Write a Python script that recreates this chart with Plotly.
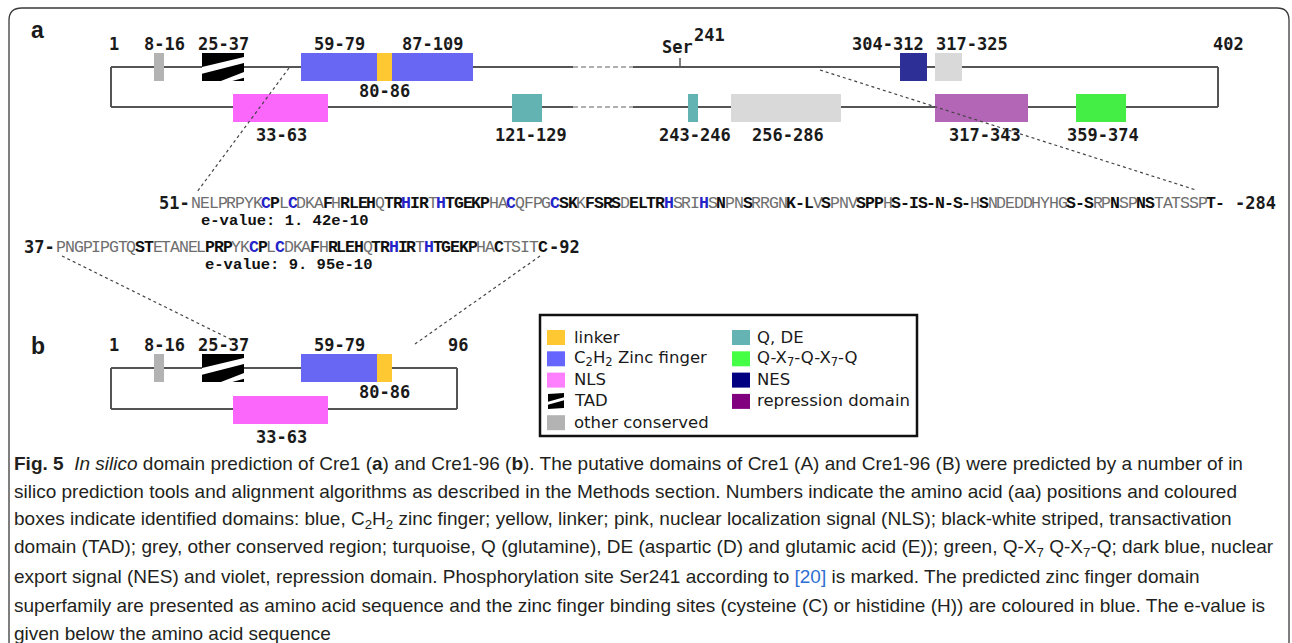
import plotly.graph_objects as go

# ---------------- data ----------------
# Panel a (Cre1): domains on the upper and lower strand of the schematic.
# start/end are the schematic extents (x-axis units)
a_top_labels = ["8-16", "25-37", "59-79", "80-86", "87-109", "304-312", "317-325"]
a_top_kinds = ["other", "TAD", "zinc", "linker", "zinc", "NES", "other_light"]
a_top_start = [154, 202, 301, 377, 392, 900, 935]
a_top_end = [164, 244, 377, 392, 473, 927, 962]

a_bot_labels = ["33-63", "121-129", "243-246", "256-286", "317-343", "359-374"]
a_bot_kinds = ["NLS", "QDE", "QDE", "other_light", "repression", "QX7"]
a_bot_start = [233, 512, 688, 731, 935, 1076]
a_bot_end = [328, 542, 698, 841, 1028, 1126]

a_ends = ["1", "402"]
a_track = [111, 1218]
a_break = [573, 633]
site_name = "Ser"
site_num = "241"
site_pos = 680

# Panel b (Cre1-96)
b_top_labels = ["8-16", "25-37", "59-79", "80-86"]
b_top_kinds = ["other", "TAD", "zinc", "linker"]
b_top_start = [154, 202, 301, 377]
b_top_end = [164, 244, 377, 392]

b_bot_labels = ["33-63"]
b_bot_kinds = ["NLS"]
b_bot_start = [233]
b_bot_end = [328]

b_ends = ["1", "96"]
b_track = [111, 457]

# Zinc finger sequences (t = plain, b = bold, c = binding site, blue)
seq1_from, seq1_to = "51", "284"
seq1 = "NELPRPYKCPLCDKAFHRLEHQTRHIRTHTGEKPHACQFPGCSKKFSRSDELTRHSRIHSNPNSRRGNK-LVSPNVSPPHS-IS-N-S-HSNDEDDHYHGS-SRPNSPNSTATSSPT-"
style1 = ("tttttttt" "cbtc" "ttt" "bt" "bbbb" "t" "bb" "c" "bb" "t" "c" "bbbbb" "tt" "c" "tttt" "c"
          "bb" "t" "bbbb" "t" "bbbb" "c" "ttt" "c" "t" "b" "tt" "b" "tttt" "bbb" "t" "b" "ttt" "bbb"
          "t" "bbbbbbbbb" "t" "b" "ttttttttt" "bbb" "tt" "b" "tt" "bb" "tttttt" "bb")
evalue1 = "e-value: 1. 42e-10"

seq2_from, seq2_to = "37", "92"
seq2 = "PNGPIPGTQSTETANELPRPYKCPLCDKAFHRLEHQTRHIRTHTGEKPHACTSITC"
style2 = ("ttttttttt" "bb" "tttttt" "bbb" "tt" "c" "b" "t" "c" "ttt" "b" "t" "bbbb" "t" "bb" "c" "bb"
          "t" "c" "bbbbb" "tt" "b" "tttt" "b")
evalue2 = "e-value: 9. 95e-10"

legend_col1 = ["linker", "C<sub>2</sub>H<sub>2</sub> Zinc finger", "NLS", "TAD", "other conserved"]
legend_col1_kind = ["linker_lg", "zinc_lg", "NLS_lg", "TAD", "other"]
legend_col2 = ["Q, DE", "Q-X<sub>7</sub>-Q-X<sub>7</sub>-Q", "NES", "repression domain"]
legend_col2_kind = ["QDE_lg", "QX7_lg", "NES_lg", "repression_lg"]

caption_lines = [
    "<b>Fig. 5</b>  <i>In silico</i> domain prediction of Cre1 (<b>a</b>) and Cre1-96 (<b>b</b>). The putative domains of Cre1 (A) and Cre1-96 (B) were predicted by a number of in",
    "silico prediction tools and alignment algorithms as described in the Methods section. Numbers indicate the amino acid (aa) positions and coloured",
    "boxes indicate identified domains: blue, C<sub>2</sub>H<sub>2</sub> zinc finger; yellow, linker; pink, nuclear localization signal (NLS); black-white striped, transactivation",
    "domain (TAD); grey, other conserved region; turquoise, Q (glutamine), DE (aspartic (D) and glutamic acid (E)); green, Q-X<sub>7</sub> Q-X<sub>7</sub>-Q; dark blue, nuclear",
    "export signal (NES) and violet, repression domain. Phosphorylation site Ser241 according to <span style='color:#2f6fd0'>[20]</span> is marked. The predicted zinc finger domain",
    "superfamily are presented as amino acid sequence and the zinc finger binding sites (cysteine (C) or histidine (H)) are coloured in blue. The e-value is",
    "given below the amino acid sequence",
]

assert len(seq1) == len(style1) and len(seq2) == len(style2)

# ---------------- styles / layout ----------------
COLORS = {
    "other": "#b3b3b3", "other_light": "#d9d9d9", "zinc": "#6767f3", "linker": "#fdc832",
    "NES": "#2d2f96", "NLS": "#fb66fb", "QDE": "#63b3b3", "repression": "#b266b5", "QX7": "#44ee44",
    "linker_lg": "#fdc832", "zinc_lg": "#6666ff", "NLS_lg": "#ff80ff", "QDE_lg": "#66b3b3",
    "QX7_lg": "#44ff44", "NES_lg": "#000080", "repression_lg": "#800080",
}
LINE = "#555555"
TXT = "#1a1a1a"
MONO = "DejaVu Sans Mono"
LBL = 17
HALF = 14

shapes = []
ann = []


def text(x, y, s, size=LBL, family=MONO, color=TXT, xanchor="center", yanchor="middle"):
    ann.append(dict(x=x, y=y, xref="x", yref="y", text=s, showarrow=False,
                    font=dict(size=size, family=family, color=color),
                    xanchor=xanchor, yanchor=yanchor))


def seg(x0, y0, x1, y1, color=LINE, width=2, dash="solid"):
    shapes.append(dict(type="line", xref="x", yref="y", x0=x0, y0=y0, x1=x1, y1=y1,
                       line=dict(color=color, width=width, dash=dash)))


def poly(pts, color):
    d = "M " + " L ".join(f"{px},{py}" for px, py in pts) + " Z"
    shapes.append(dict(type="path", xref="x", yref="y", path=d, fillcolor=color,
                       line=dict(width=0)))


def box(x0, x1, yc, kind):
    y0, y1 = yc - HALF, yc + HALF
    if kind == "TAD":
        poly([(x0, y0), (x1, y0), (x1, y1), (x0, y1)], "#000000")
        h = y1 - y0
        w = x1 - x0
        poly([(x0, y0 + 0.50 * h), (x1, y0 + 0.14 * h), (x1, y0 + 0.36 * h), (x0, y0 + 0.74 * h)], "#ffffff")
        poly([(x0 + 0.45 * w, y1), (x1, y1 - 0.32 * h), (x1, y1 - 0.12 * h), (x0 + 0.72 * w, y1)], "#ffffff")
    else:
        poly([(x0, y0), (x1, y0), (x1, y1), (x0, y1)], COLORS[kind])


def track(xr, ytop, ybot, brk=None):
    for yy in (ytop, ybot):
        if brk:
            seg(xr[0], yy, brk[0], yy)
            seg(brk[0], yy, brk[1], yy, color="#b0b0b0", width=2, dash="5px,3px")
            seg(brk[1], yy, xr[1], yy)
        else:
            seg(xr[0], yy, xr[1], yy)
    seg(xr[0], ytop, xr[0], ybot)
    seg(xr[1], ytop, xr[1], ybot)


def panel(ytop, ybot, xr, ends, top, bot, top_shift, bot_shift, below_top, brk=None):
    track(xr, ytop, ybot, brk)
    labels, kinds, st, en = top
    for i, (lab, k, s, e) in enumerate(zip(labels, kinds, st, en)):
        box(s, e, ytop, k)
        cx = (s + e) / 2 + top_shift[i]
        if lab in below_top:
            text(cx, ytop + 24, f"<b>{lab}</b>")
        else:
            text(cx, ytop - 23, f"<b>{lab}</b>")
    labels, kinds, st, en = bot
    for i, (lab, k, s, e) in enumerate(zip(labels, kinds, st, en)):
        box(s, e, ybot + 1, k)
        text((s + e) / 2 + bot_shift[i], ybot + 28, f"<b>{lab}</b>")
    text(xr[0] + 3, ytop - 23, f"<b>{ends[0]}</b>")
    text(xr[1] + 10 if len(ends[1]) > 2 else xr[1] + 1, ytop - 23, f"<b>{ends[1]}</b>")


# outer rounded frame (open at the bottom edge of the picture)
shapes.append(dict(type="path", xref="x", yref="y",
                   path="M 9,645 L 9,20 Q 9,8 22,8 L 1277,8 Q 1289,8 1289,20 L 1289,645",
                   line=dict(color="#3a3a3a", width=1.3), fillcolor="rgba(0,0,0,0)"))

# panel a
text(37, 30, "<b>a</b>", size=23, family="Liberation Sans")
panel(67, 107, a_track, a_ends,
      (a_top_labels, a_top_kinds, a_top_start, a_top_end),
      (a_bot_labels, a_bot_kinds, a_bot_start, a_bot_end),
      [5, 0, 0, 0, 0, -26, 23], [1, 4, 2, 2, 3, 2], {"80-86"}, a_break)
seg(site_pos, 58, site_pos, 67, width=1.5)
text(site_pos - 20, 47, f"<b>{site_name}</b>", xanchor="left")
text(site_pos + 12, 35, f"<b>{site_num}</b>", xanchor="left")

# panel b
text(38, 346, "<b>b</b>", size=23, family="Liberation Sans")
panel(368, 409, b_track, b_ends,
      (b_top_labels, b_top_kinds, b_top_start, b_top_end),
      (b_bot_labels, b_bot_kinds, b_bot_start, b_bot_end),
      [5, 0, 0, 0], [1], {"80-86"})

# sequences
STEP = 8.75
SEQ_FONT = "Liberation Mono"


def sequence(x0, y, seq, style, pre, post, ev, evx):
    text(x0, y, f"<b>{pre}-</b>", xanchor="right")
    for i, (ch, st) in enumerate(zip(seq, style)):
        cx = x0 + STEP * (i + 0.5)
        if st == "t":
            text(cx, y, ch, size=16.5, family=SEQ_FONT, color="#6e6e6e")
        elif st == "b":
            text(cx, y, f"<b>{ch}</b>", size=16.5, family=SEQ_FONT, color="#111111")
        else:
            text(cx, y, f"<b>{ch}</b>", size=16.5, family=SEQ_FONT, color="#2424c8")
    xe = x0 + STEP * len(seq)
    text(xe + (8 if len(post) > 2 else 0), y, f"<b>-{post}</b>", xanchor="left")
    text(evx, y + 18, f"<b>{ev}</b>", size=15.5, family=SEQ_FONT, color="#111111", xanchor="left")


sequence(192, 203, seq1, style1, seq1_from, seq1_to, evalue1, 199)
sequence(57, 247, seq2, style2, seq2_from, seq2_to, evalue2, 203)

# connectors (dotted)
for (x0, y0, x1, y1) in [(289, 68, 197, 192), (820, 70, 1196, 190), (62, 256, 232, 340), (540, 256, 415, 344)]:
    seg(x0, y0, x1, y1, color="#444444", width=1.2, dash="dot")

# legend box
shapes.append(dict(type="rect", xref="x", yref="y", x0=540, y0=315, x1=917, y1=436,
                   line=dict(color="#111111", width=2.5), fillcolor="rgba(0,0,0,0)"))
LG_Y0, LG_DY = 337, 21.3
for col, (items, kinds, sx, tx) in enumerate([(legend_col1, legend_col1_kind, 547, 572),
                                               (legend_col2, legend_col2_kind, 732, 755)]):
    for i, (lab, k) in enumerate(zip(items, kinds)):
        yc = LG_Y0 + i * LG_DY
        if k == "TAD":
            poly([(sx + 1, yc - 7), (sx + 17, yc - 8), (sx + 17, yc + 7), (sx + 1, yc + 8)], "#000000")
            poly([(sx, yc + 1), (sx + 18, yc - 4), (sx + 18, yc - 1), (sx, yc + 4)], "#ffffff")
        else:
            poly([(sx, yc - 7), (sx + 18, yc - 7), (sx + 18, yc + 8), (sx, yc + 8)], COLORS[k])
        text(tx, yc, lab, size=16.5, family="DejaVu Sans", color=TXT, xanchor="left")

# caption
CAP_Y0, CAP_DY = 463, 28.4
for i, line in enumerate(caption_lines):
    text(12, CAP_Y0 + i * CAP_DY, line, size=19.0, family="Liberation Sans",
         color="#231f20", xanchor="left")

fig = go.Figure()
fig.update_layout(
    width=1292, height=643, margin=dict(l=0, r=0, t=0, b=0),
    paper_bgcolor="white", plot_bgcolor="white",
    xaxis=dict(range=[0, 1292], visible=False, fixedrange=True),
    yaxis=dict(range=[643, 0], visible=False, fixedrange=True),
    shapes=shapes, annotations=ann, showlegend=False,
)
fig.write_html("out.html", config={"displayModeBar": False},
               post_script="document.body.style.margin='0';document.body.style.overflow='hidden';")
